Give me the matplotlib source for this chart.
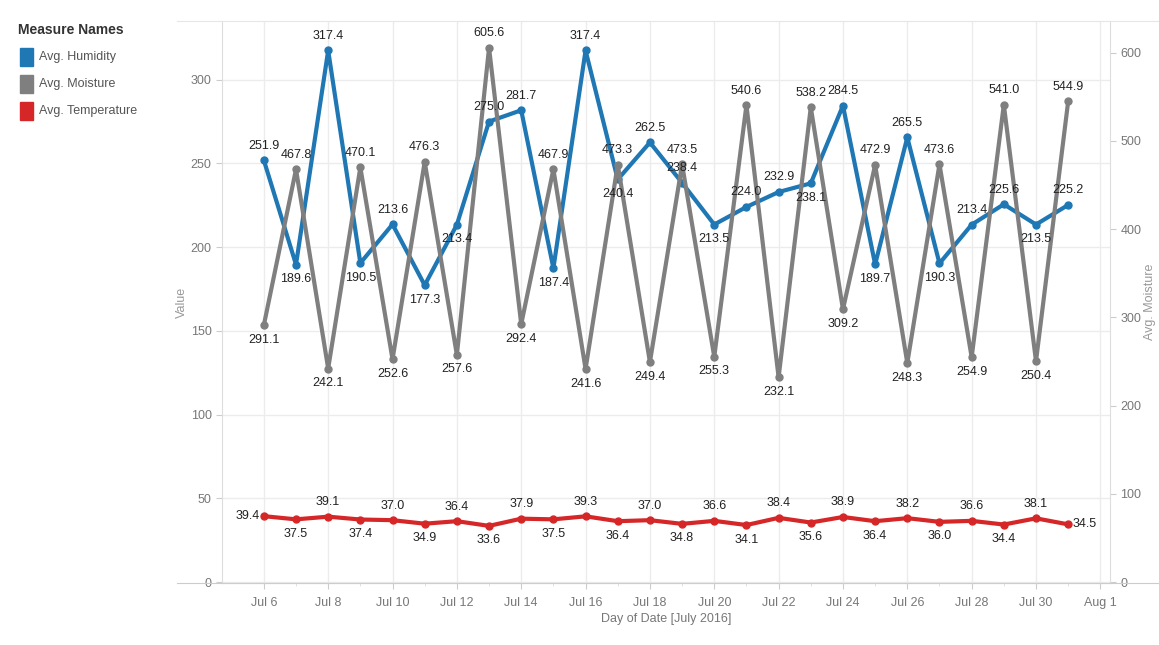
import matplotlib.pyplot as plt
import matplotlib.dates as mdates
import pandas as pd
from matplotlib.patches import Rectangle

dates = pd.date_range('2016-07-06', '2016-07-31', freq='D')

humidity = [251.9, 189.6, 317.4, 190.5, 213.6, 177.3, 213.4, 275.0, 281.7, 187.4,
            317.4, 240.4, 262.5, 238.4, 213.5, 224.0, 232.9, 238.1, 284.5, 189.7,
            265.5, 190.3, 213.4, 225.6, 213.5, 225.2]
moisture = [291.1, 467.8, 242.1, 470.1, 252.6, 476.3, 257.6, 605.6, 292.4, 467.9,
            241.6, 473.3, 249.4, 473.5, 255.3, 540.6, 232.1, 538.2, 309.2, 472.9,
            248.3, 473.6, 254.9, 541.0, 250.4, 544.9]
temperature = [39.4, 37.5, 39.1, 37.4, 37.0, 34.9, 36.4, 33.6, 37.9, 37.5,
               39.3, 36.4, 37.0, 34.8, 36.6, 34.1, 38.4, 35.6, 38.9, 36.4,
               38.2, 36.0, 36.6, 34.4, 38.1, 34.5]

names = ['Avg. Humidity', 'Avg. Moisture', 'Avg. Temperature']
colors = ['#1f77b4', '#7f7f7f', '#d62728']

plt.rcParams['font.family'] = ['Liberation Sans', 'DejaVu Sans']
FS = 9

fig = plt.figure(figsize=(11.59, 6.45), dpi=100)
ax = fig.add_axes([222/1159, 1-583/645, (1110-222)/1159, (583-21)/645])
ax2 = ax.twinx()

x = mdates.date2num(dates)

ax.plot(x, humidity, color=colors[0], lw=3, marker='o', ms=5, zorder=3)
ax.plot(x, temperature, color=colors[2], lw=3, marker='o', ms=5, zorder=3)
ax2.plot(x, moisture, color=colors[1], lw=3, marker='o', ms=5, zorder=3)

ax.set_ylim(-0.5, 335)
ax2.set_ylim(-1, 636)
ax.set_xlim(x[0] - 1.3, x[-1] + 1.3)


def put_labels(vals, trans, ends_side=False):
    n = len(vals)
    for i, v in enumerate(vals):
        if ends_side and i == 0:
            ax2.annotate(f'{v:.1f}', (x[i], v), xycoords=trans, xytext=(-3, 0),
                         textcoords='offset points', ha='right', va='center',
                         fontsize=FS, color='#222222', zorder=10)
            continue
        if ends_side and i == n - 1:
            ax2.annotate(f'{v:.1f}', (x[i], v), xycoords=trans, xytext=(3, 0),
                         textcoords='offset points', ha='left', va='center',
                         fontsize=FS, color='#222222', zorder=10)
            continue
        nb = [vals[j] for j in (i - 1, i + 1) if 0 <= j < n]
        up = v >= sum(nb) / len(nb)
        ax2.annotate(f'{v:.1f}', (x[i], v), xycoords=trans,
                     xytext=(0, 10.5 if up else -10.5), textcoords='offset points',
                     ha='center', va='center', fontsize=FS, color='#222222', zorder=10)


put_labels(humidity, ax.transData)
put_labels(moisture, ax2.transData)
put_labels(temperature, ax.transData, ends_side=True)

# axes styling
ticks = mdates.date2num(pd.date_range('2016-07-06', '2016-08-01', freq='2D'))
ax.set_xticks(ticks)
ax.xaxis.set_major_formatter(mdates.DateFormatter('%b %-d'))
ax.set_xticks(x, minor=True)
ax.set_yticks(range(0, 301, 50))
ax2.set_yticks(range(0, 601, 100))

ax.grid(True, which='major', color='#ececec', lw=1)
ax.set_axisbelow(True)

for a in (ax, ax2):
    for s in a.spines.values():
        s.set_visible(False)
    a.tick_params(colors='#cccccc', labelcolor='#777777', labelsize=FS, length=4, width=0.8)
    a.tick_params(which='minor', length=2, colors='#dddddd')
ax.spines['left'].set_visible(True)
ax.spines['left'].set_color('#dddddd')
ax2.spines['right'].set_visible(True)
ax2.spines['right'].set_color('#dddddd')
ax.spines['bottom'].set_visible(True)
ax.spines['bottom'].set_color('#cccccc')
ax.tick_params(axis='x', pad=6)

ax.set_ylabel('Value', color='#999999', fontsize=FS, labelpad=2)
ax2.set_ylabel('Avg. Moisture', color='#999999', fontsize=FS, labelpad=2)
ax.set_xlabel('Day of Date [July 2016]', color='#777777', fontsize=FS, labelpad=3)

# outer lines
fig.add_artist(plt.Line2D([177/1159, 1], [1-583/645]*2, color='#cccccc', lw=0.8))
fig.add_artist(plt.Line2D([177/1159, 1], [1-21/645]*2, color='#e6e6e6', lw=0.8))

# legend
fig.text(18/1159, 1-30/645, 'Measure Names', fontsize=10, fontweight='bold',
         color='#333333', va='center', ha='left')
for k, (nm, c) in enumerate(zip(names, colors)):
    yc = 57 + k * 27
    fig.add_artist(Rectangle((20/1159, 1-(yc+9)/645), 13/1159, 18/645,
                             transform=fig.transFigure, color=c))
    fig.text(39/1159, 1-yc/645, nm, fontsize=FS, color='#555555', va='center', ha='left')

fig.savefig('out.png', dpi=100)
